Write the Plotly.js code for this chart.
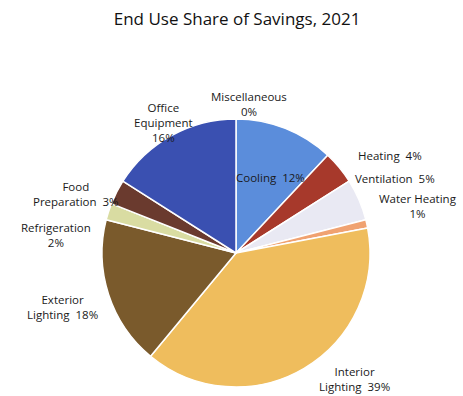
<!DOCTYPE html>
<html>
<head>
<meta charset="utf-8">
<script src="https://cdn.plot.ly/plotly-3.0.1.min.js"></script>
<style>html,body{margin:0;padding:0;background:#fff;}#chart{width:463px;height:396px;}</style>
</head>
<body>
<div id="chart"></div>
<script>
// Data
const categories = ["Miscellaneous", "Cooling", "Heating", "Ventilation", "Water Heating",
  "Interior Lighting", "Exterior Lighting", "Refrigeration", "Food Preparation", "Office Equipment"];
const shares = [0, 12, 4, 5, 1, 39, 18, 2, 3, 16];
// Label text as drawn (line breaks)
const labelLines = [
  ["Miscellaneous", "0%"],
  ["Cooling  12%"],
  ["Heating  4%"],
  ["Ventilation  5%"],
  ["Water Heating", "1%"],
  ["Interior", "Lighting  39%"],
  ["Exterior", "Lighting  18%"],
  ["Refrigeration", "2%"],
  ["Food", "Preparation  3%"],
  ["Office", "Equipment", "16%"]
];

// Styles / layout (kept separate from data)
const colors = ["#9a9a9a", "#5b8ddb", "#a7392b", "#e9e9f3", "#f0a271",
  "#efbd5d", "#7a5a2c", "#d9dca2", "#6a3a2e", "#3a50b1"];
const labelPx = [
  [249, 104], [270, 177], [390, 155], [395, 178], [418, 206],
  [354, 379], [62, 307], [56, 235], [76, 194], [163, 122]
];

const W = 463, H = 396;
const cx = 236, cy = 253, R = 134;

const annotations = labelLines.map((lines, i) => ({
  xref: "paper", yref: "paper",
  x: labelPx[i][0] / W, y: 1 - labelPx[i][1] / H,
  xanchor: "center", yanchor: "middle",
  text: lines.join("<br>"),
  showarrow: false,
  align: "center",
  font: {family: "Open Sans, Noto Sans, sans-serif", size: 11.5, color: "#1a1a1a"}
}));

const data = [{
  type: "pie",
  labels: categories,
  values: shares,
  sort: false,
  direction: "clockwise",
  rotation: 0,
  textinfo: "none",
  hoverinfo: "label+percent",
  marker: {colors: colors, line: {color: "#ffffff", width: 1.5}},
  domain: {x: [(cx - R) / W, (cx + R) / W], y: [1 - (cy + R) / H, 1 - (cy - R) / H]},
  showlegend: false
}];

const layout = {
  width: W, height: H,
  margin: {l: 0, r: 0, t: 0, b: 0},
  paper_bgcolor: "#ffffff",
  title: {
    text: "End Use Share of Savings, 2021",
    x: 0.512, xanchor: "center",
    y: 1 - 19 / H, yanchor: "middle",
    font: {family: "Open Sans, Noto Sans, sans-serif", size: 17, color: "#111"}
  },
  annotations: annotations,
  showlegend: false
};

Plotly.newPlot("chart", data, layout, {displayModeBar: false, staticPlot: true});
</script>
</body>
</html>
